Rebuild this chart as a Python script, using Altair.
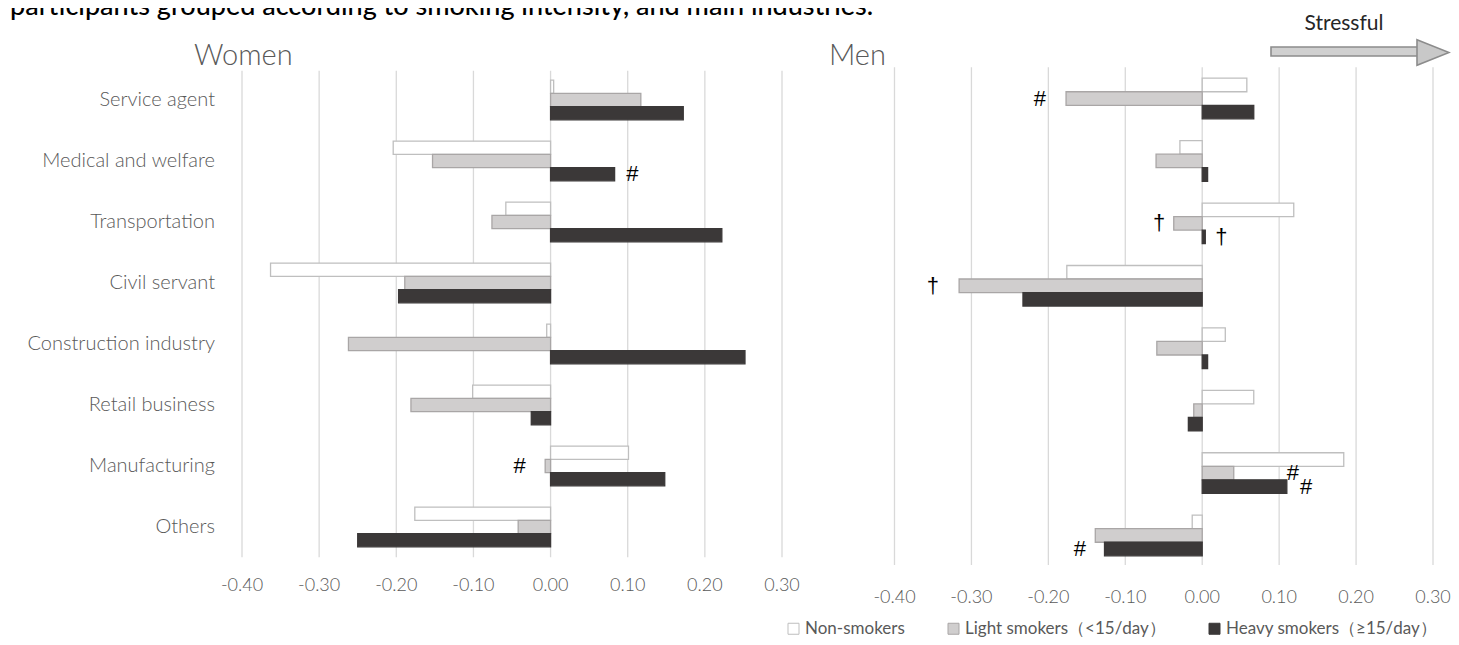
import altair as alt
import pandas as pd

# ---------------- data ----------------
categories = ["Service agent", "Medical and welfare", "Transportation", "Civil servant",
              "Construction industry", "Retail business", "Manufacturing", "Others"]
series = ["Non-smokers", "Light smokers（<15/day）", "Heavy smokers（≥15/day）"]

women_non = [0.004, -0.204, -0.058, -0.363, -0.005, -0.101, 0.101, -0.176]
women_light = [0.117, -0.153, -0.076, -0.189, -0.262, -0.181, -0.007, -0.042]
women_heavy = [0.172, 0.083, 0.222, -0.197, 0.252, -0.025, 0.148, -0.250]

men_non = [0.058, -0.029, 0.119, -0.176, 0.030, 0.067, 0.184, -0.013]
men_light = [-0.177, -0.060, -0.037, -0.316, -0.059, -0.011, 0.041, -0.139]
men_heavy = [0.067, 0.007, 0.004, -0.233, 0.007, -0.018, 0.110, -0.127]

tick_values = [-0.4, -0.3, -0.2, -0.1, 0.0, 0.1, 0.2, 0.3]
tick_labels = ["-0.40", "-0.30", "-0.20", "-0.10", "0.00", "0.10", "0.20", "0.30"]

# significance marks (# and †), placed at a value on the x axis next to their bar
ann_panel = ["Women", "Women", "Men", "Men", "Men", "Men", "Men", "Men", "Men"]
ann_category = ["Medical and welfare", "Manufacturing", "Service agent", "Transportation",
                "Transportation", "Civil servant", "Manufacturing", "Manufacturing", "Others"]
ann_series = [series[2], series[1], series[1], series[1], series[2], series[1],
              series[1], series[2], series[2]]
ann_value = [0.106, -0.040, -0.211, -0.056, 0.025, -0.350, 0.118, 0.135, -0.159]
ann_symbol = ["#", "#", "#", "†", "†", "†", "#", "#", "#"]

title_text = "participants grouped according to smoking intensity, and main industries."

# ---------------- styling ----------------
fills = ["#ffffff", "#d0cece", "#3b3838"]
strokes = ["#bfbfbf", "#a9a6a6", "#3b3838"]
FONT = "Lato"
GREY = "#595959"


def bars_frame(non, light, heavy):
    rows = []
    for vals, s in zip([non, light, heavy], series):
        for c, v in zip(categories, vals):
            rows.append({"category": c, "series": s, "value": v})
    return pd.DataFrame(rows)


ticks_df = pd.DataFrame({"value": tick_values, "label": tick_labels})
ann_df = pd.DataFrame({"panel": ann_panel, "category": ann_category, "series": ann_series,
                       "value": ann_value, "symbol": ann_symbol})
cat_df = pd.DataFrame({"category": categories})

legend = alt.Legend(orient="none", legendX=777, legendY=612, direction="horizontal",
                    title=None, symbolType="square", symbolSize=121, symbolStrokeWidth=1,
                    labelFont=FONT, labelFontSize=17, labelColor=GREY, labelOffset=3,
                    labelLimit=500, columnPadding=40, padding=0)


def panel(name, non, light, heavy, xrange, yrange, grid_y, tick_y, title_x, with_labels):
    xs = alt.Scale(domain=[-0.4, 0.3], range=xrange, nice=False, zero=False)
    ys = alt.Scale(domain=categories, range=yrange, paddingInner=0.35, paddingOuter=0.175)
    os_ = alt.Scale(domain=series, paddingInner=0, paddingOuter=0)

    grid = alt.Chart(ticks_df).mark_rule(color="#d9d9d9", strokeWidth=1.3).encode(
        x=alt.X("value:Q", scale=xs, axis=None),
        y=alt.value(grid_y[0]), y2=alt.value(grid_y[1]))

    bars = alt.Chart(bars_frame(non, light, heavy)).mark_bar(strokeWidth=1.3).encode(
        x=alt.X("value:Q", scale=xs, axis=None),
        y=alt.Y("category:N", scale=ys, axis=None),
        yOffset=alt.YOffset("series:N", scale=os_),
        fill=alt.Fill("series:N", scale=alt.Scale(domain=series, range=fills), legend=legend),
        stroke=alt.Stroke("series:N", scale=alt.Scale(domain=series, range=strokes), legend=legend),
    )

    ticks = alt.Chart(ticks_df).mark_text(font=FONT, fontSize=18, fontWeight=300, color=GREY,
                                          baseline="middle").encode(
        x=alt.X("value:Q", scale=xs, axis=None), y=alt.value(tick_y), text="label:N")

    ann = alt.Chart(ann_df[ann_df.panel == name]).mark_text(
        font="Liberation Sans", fontSize=22, color="#000000", baseline="middle").encode(
        x=alt.X("value:Q", scale=xs, axis=None),
        y=alt.Y("category:N", scale=ys, axis=None),
        yOffset=alt.YOffset("series:N", scale=os_),
        text="symbol:N")

    ttl = alt.Chart(pd.DataFrame({"t": [name]})).mark_text(
        font=FONT, fontSize=29, fontWeight=300, color=GREY, align="left",
        baseline="alphabetic").encode(x=alt.value(title_x), y=alt.value(57), text="t:N")

    layers = [grid, bars, ticks, ann, ttl]
    if with_labels:
        labels = alt.Chart(cat_df).mark_text(font=FONT, fontSize=20, fontWeight=300, color=GREY,
                                             align="right", baseline="middle").encode(
            x=alt.value(207), y=alt.Y("category:N", scale=ys, axis=None), text="category:N")
        layers.append(labels)
    return alt.layer(*layers)


women = panel("Women", women_non, women_light, women_heavy,
              [234, 774], [61.5, 549.5], [62.7, 549.3], 578, 186, True)
men = panel("Men", men_non, men_light, men_heavy,
            [886.5, 1425], [59.3, 558.7], [59.3, 557], 590, 821, False)

one = pd.DataFrame({"t": [title_text]})
top_title = alt.Chart(one).mark_text(font=FONT, fontSize=27, fontWeight=500, color="#000000",
                                     align="left", baseline="alphabetic").encode(
    x=alt.value(2), y=alt.value(7), text="t:N")

stress = alt.Chart(pd.DataFrame({"t": ["Stressful"]})).mark_text(
    font=FONT, fontSize=21, color="#262626", align="center", baseline="middle").encode(
    x=alt.value(1336), y=alt.value(16), text="t:N")

shaft = alt.Chart(pd.DataFrame({"a": [1]})).mark_rect(
    fill="#d0d0d0", stroke="#8c8c8c", strokeWidth=1.6).encode(
    x=alt.value(1263), x2=alt.value(1415), y=alt.value(39), y2=alt.value(48))

head = alt.Chart(pd.DataFrame({"a": [1]})).mark_point(
    shape="M-1,-0.8L1,0L-1,0.8Z", size=1024, filled=True, fill="#c8c8c8",
    stroke="#8c8c8c", strokeWidth=1.6, opacity=1).encode(
    x=alt.value(1425), y=alt.value(44.5))

chart = alt.layer(women, men, top_title, stress, shaft, head).resolve_scale(
    x="independent", y="independent", yOffset="independent"
).properties(
    width=1443, height=629, padding=0,
    autosize=alt.AutoSizeParams(type="none"),
    background="#ffffff",
).configure_view(strokeWidth=0)

chart.save("out.html", embed_options={"renderer": "svg", "actions": False})
